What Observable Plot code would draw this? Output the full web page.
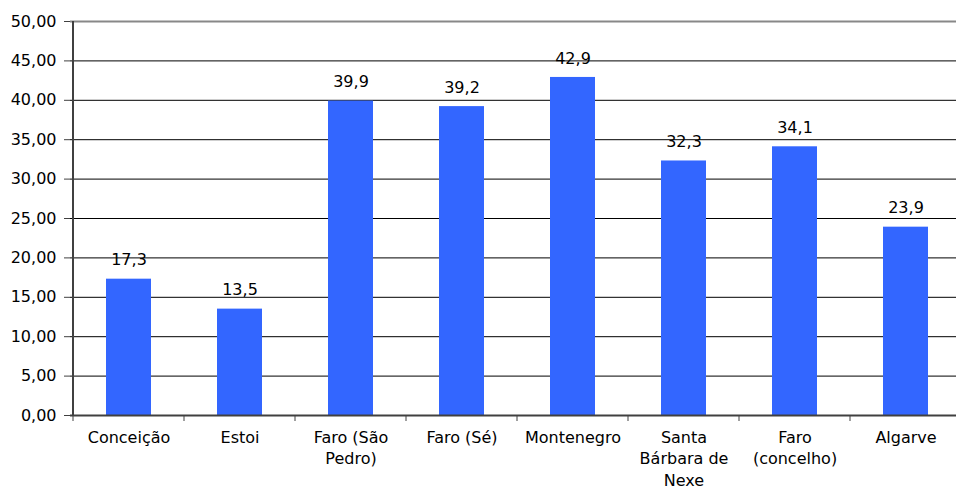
<!DOCTYPE html>
<html>
<head>
<meta charset="utf-8">
<script src="https://cdn.jsdelivr.net/npm/d3@7"></script>
<script src="https://cdn.jsdelivr.net/npm/@observablehq/plot@0.6"></script>
<style>
  html, body { margin: 0; padding: 0; background: #fff; }
  svg { display: block; }
</style>
</head>
<body>
<div id="chart"></div>
<script>
const categories = ["Conceição", "Estoi", "Faro (São Pedro)", "Faro (Sé)", "Montenegro", "Santa Bárbara de Nexe", "Faro (concelho)", "Algarve"];
const tickLabels = ["Conceição", "Estoi", "Faro (São\nPedro)", "Faro (Sé)", "Montenegro", "Santa\nBárbara de\nNexe", "Faro\n(concelho)", "Algarve"];
const values = [17.3, 13.5, 39.9, 39.2, 42.9, 32.3, 34.1, 23.9];
const yTicks = [0, 5, 10, 15, 20, 25, 30, 35, 40, 45, 50];

const data = categories.map((c, i) => ({category: c, value: values[i]}));
const labelOf = new Map(categories.map((c, i) => [c, tickLabels[i]]));
const comma = (f) => (v) => d3.format(f)(v).replace(".", ",");

const chart = Plot.plot({
  width: 956,
  height: 491,
  marginLeft: 70,
  marginRight: 0,
  marginTop: 21,
  marginBottom: 76,
  style: {fontFamily: "'DejaVu Sans', Verdana, sans-serif", fontSize: "16px", color: "#000", background: "#fff"},
  x: {domain: categories, range: [70, 964.5], paddingInner: 0.593, paddingOuter: 0.2965, align: 0.5},
  y: {domain: [0, 50], ticks: yTicks},
  marks: [
    Plot.ruleY(yTicks.filter(d => d > 0 && d < 50), {stroke: "#000", strokeWidth: 1}),
    Plot.ruleY([50], {stroke: "#888", strokeWidth: 2}),
    Plot.barY(data, {x: "category", y: "value", fill: "#3366FF"}),
    Plot.text(data, {x: "category", y: "value", text: d => comma(".1f")(d.value), dy: -19, lineAnchor: "middle", fill: "#000", fontSize: 16}),
    Plot.axisY({ticks: yTicks, tickFormat: comma(".2f"), tickSize: 6, tickPadding: 8, stroke: "#404040", fontSize: 16, label: null}),
    Plot.axisX({tickFormat: d => labelOf.get(d), tickSize: 0, tickPadding: 12, lineHeight: 1.35, fontSize: 16, label: null}),
    Plot.ruleY([0], {stroke: "#404040", strokeWidth: 2})
  ]
});
document.getElementById("chart").appendChild(chart);

// Left axis line and category boundary ticks, positioned via the chart's scales
const xs = chart.scale("x"), ys = chart.scale("y");
const svg = d3.select(chart);
const step = xs.step;
const bounds = categories.map(c => xs.apply(c) - (step - xs.bandwidth) / 2);
bounds.push(bounds[bounds.length - 1] + step);
svg.append("line").attr("x1", bounds[0]).attr("x2", bounds[0]).attr("y1", ys.apply(50)).attr("y2", ys.apply(0)).attr("stroke", "#404040").attr("stroke-width", 2);
bounds.forEach(b => svg.append("line").attr("x1", b).attr("x2", b).attr("y1", ys.apply(0)).attr("y2", ys.apply(0) + 6).attr("stroke", "#404040").attr("stroke-width", 1));
</script>
</body>
</html>
